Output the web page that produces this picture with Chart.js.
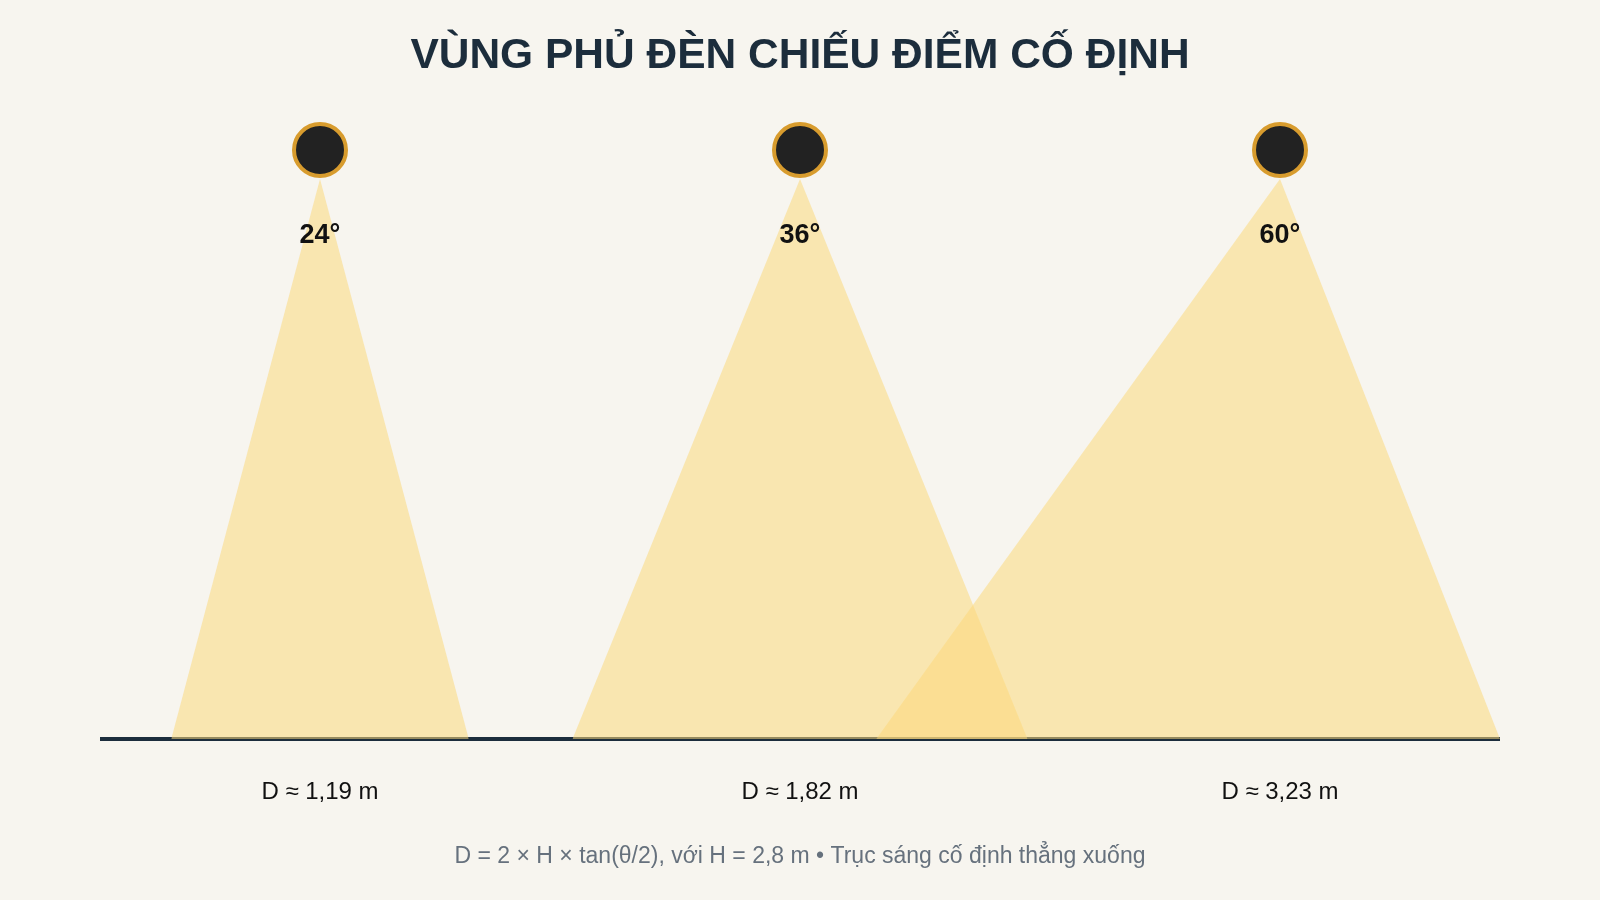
<!DOCTYPE html>
<html><head><meta charset="utf-8">
<script src="https://cdn.jsdelivr.net/npm/chart.js@4/dist/chart.umd.min.js"></script>
<style>html,body{margin:0;background:#f7f5ef}canvas{display:block}</style>
</head><body>
<div style="width:1600px;height:900px"><canvas id="c"></canvas></div>
<script>
const angles = [24, 36, 60];
const lampX = [0.88, 2.80, 4.72];
const spreads = [1.19, 1.82, 3.23];
const spreadLabels = ['D ≈ 1,19 m', 'D ≈ 1,82 m', 'D ≈ 3,23 m'];
const H = 2.8;
const X_MAX = 5.6;

const datasets = [];
angles.forEach((a, i) => {
  const h = spreads[i] / 2;
  datasets.push({
    // beam edge is held inside the floor range (0..X_MAX)
    data: [{x: Math.max(0, lampX[i] - h), y: 0}, {x: lampX[i], y: H}, {x: Math.min(X_MAX, lampX[i] + h), y: 0}],
    showLine: true, borderWidth: 0, pointRadius: 0, fill: 'origin', tension: 0,
    borderColor: 'rgba(0,0,0,0)',
    backgroundColor: 'rgba(251,216,124,0.55)'
  });
});
datasets.push({
  data: lampX.map(x => ({x: x, y: 2.945})),
  showLine: false, pointRadius: 26, pointBorderWidth: 4,
  pointBackgroundColor: '#222222', pointBorderColor: '#d89c2e'
});

const deco = {
  id: 'deco',
  beforeDatasetsDraw(chart) {
    const {ctx, scales: {y}, chartArea} = chart;
    ctx.save();
    ctx.strokeStyle = '#1c2d3c'; ctx.lineWidth = 4;
    ctx.beginPath(); ctx.moveTo(chartArea.left, y.getPixelForValue(0)); ctx.lineTo(chartArea.right, y.getPixelForValue(0)); ctx.stroke();
    ctx.restore();
  },
  afterDatasetsDraw(chart) {
    const {ctx, scales: {x}} = chart;
    ctx.save();
    ctx.textAlign = 'center'; ctx.textBaseline = 'middle';
    ctx.fillStyle = '#1c2d3c'; ctx.font = 'bold 42.5px "Liberation Sans", Arial';
    ctx.fillText('VÙNG PHỦ ĐÈN CHIẾU ĐIỂM CỐ ĐỊNH', 800, 56);
    angles.forEach((a, i) => {
      const px = x.getPixelForValue(lampX[i]);
      ctx.fillStyle = '#111'; ctx.font = 'bold 27px "Liberation Sans", Arial';
      ctx.fillText(a + '°', px, 236);
      ctx.font = '24px "Liberation Sans", Arial';
      ctx.fillText(spreadLabels[i], px, 792);
    });
    ctx.fillStyle = '#66717d'; ctx.font = '23px "Liberation Sans", Arial';
    ctx.fillText('D = 2 × H × tan(θ/2), với H = 2,8 m • Trục sáng cố định thẳng xuống', 800, 857);
    ctx.restore();
  }
};

new Chart(document.getElementById('c'), {
  type: 'scatter',
  data: {datasets},
  plugins: [deco],
  options: {
    responsive: true, maintainAspectRatio: false, animation: false,
    layout: {padding: {left: 100, right: 100, top: 99, bottom: 161}},
    plugins: {legend: {display: false}, tooltip: {enabled: false}},
    scales: {
      x: {type: 'linear', min: 0, max: X_MAX, display: false},
      y: {min: 0, max: 3.2, display: false}
    }
  }
});
</script>
</body></html>
